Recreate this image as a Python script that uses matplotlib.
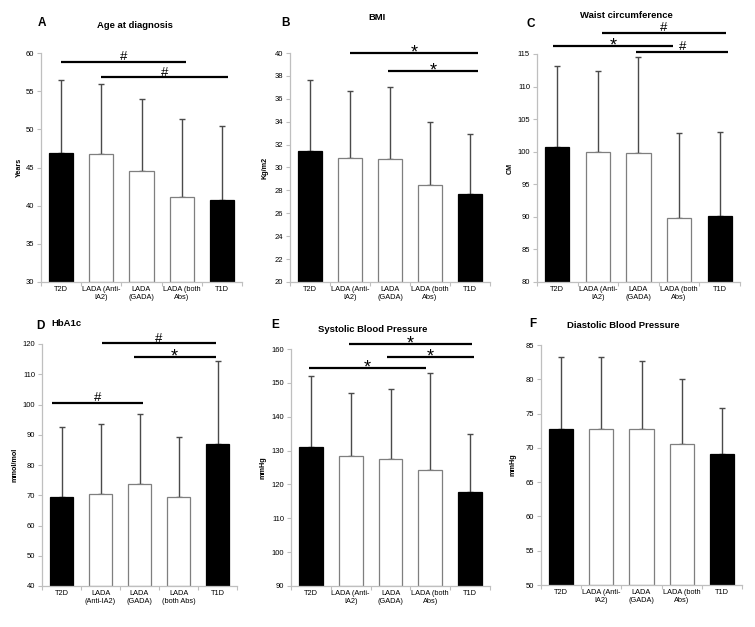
import numpy as np
import matplotlib
matplotlib.use("Agg")
import matplotlib.pyplot as plt

plt.rcParams['font.family'] = ['Liberation Sans', 'DejaVu Sans']

groups = ["T2D", "LADA (Anti-\nIA2)", "LADA\n(GADA)", "LADA (both\nAbs)", "T1D"]
groups_d = ["T2D", "LADA\n(Anti-IA2)", "LADA\n(GADA)", "LADA\n(both Abs)", "T1D"]
fills = ["black", "white", "white", "white", "black"]

# means and mean+SD
age_mean = [46.9, 46.8, 44.5, 41.2, 40.8]
age_top = [56.5, 56.0, 54.0, 51.4, 50.4]
bmi_mean = [31.4, 30.8, 30.7, 28.5, 27.7]
bmi_top = [37.6, 36.7, 37.0, 34.0, 32.9]
waist_mean = [100.7, 100.0, 99.8, 89.8, 90.2]
waist_top = [113.2, 112.4, 114.6, 102.9, 103.1]
hba1c_mean = [69.3, 70.5, 73.8, 69.3, 86.9]
hba1c_top = [92.4, 93.4, 96.7, 89.2, 114.3]
sbp_mean = [131.2, 128.3, 127.6, 124.4, 117.9]
sbp_top = [151.9, 147.0, 148.2, 152.9, 134.9]
dbp_mean = [72.8, 72.7, 72.7, 70.5, 69.1]
dbp_top = [83.2, 83.2, 82.6, 80.1, 75.8]

# significance lines: (start, end in category units, level, symbol)
age_sig = [(0.0, 3.1, 58.8, "#"), (1.0, 4.15, 56.8, "#")]
bmi_sig = [(1.0, 4.2, 40.0, "*"), (1.95, 4.2, 38.4, "*")]
waist_sig = [(1.1, 4.15, 118.3, "#"), (-0.1, 2.85, 116.2, "*"), (1.95, 4.2, 115.3, "#")]
hba1c_sig = [(1.05, 3.95, 120.2, "#"), (1.85, 3.95, 115.8, "*"), (-0.25, 2.1, 100.6, "#")]
sbp_sig = [(0.95, 4.05, 161.6, "*"), (1.9, 4.1, 157.6, "*"), (-0.05, 2.9, 154.4, "*")]
dbp_sig = []

W, H = 755, 627
fig = plt.figure(figsize=(W / 100, H / 100), dpi=100, facecolor="w")

panels = [
    # letter, title, ylabel, means, tops, ylim, ystep, sig, labels, box(l, r, t, b), title xy, letter xy, ylabel x
    ("A", "Age at diagnosis", "Years", age_mean, age_top, (30, 60), 5, age_sig, groups,
     (41, 242, 53, 282), (135, 25), (42, 23), 19),
    ("B", "BMI", "Kg/m2", bmi_mean, bmi_top, (20, 40), 2, bmi_sig, groups,
     (290, 490, 53, 282), (377, 18), (285, 23), 265),
    ("C", "Waist circumference", "CM", waist_mean, waist_top, (80, 115), 5, waist_sig, groups,
     (537, 740, 54, 282), (626, 15), (531, 24), 510),
    ("D", "HbA1c", "mmol/mol", hba1c_mean, hba1c_top, (40, 120), 10, hba1c_sig, groups_d,
     (42, 237, 344, 586), (66, 323), (40, 326), 15),
    ("E", "Systolic Blood Pressure", "mmHg", sbp_mean, sbp_top, (90, 160), 10, sbp_sig, groups,
     (291, 490, 349, 586), (373, 329), (275, 325), 263),
    ("F", "Diastolic Blood Pressure", "mmHg", dbp_mean, dbp_top, (50, 85), 5, dbp_sig, groups,
     (541, 742, 345, 585), (623, 325), (533, 324), 513),
]

axis_grey = "#bfbfbf"
err_grey = "#4a4a4a"

for (letter, title, ylab, means, tops, ylim, ystep, sig, labels,
     box, txy, lxy, ylx) in panels:
    l, r, t, b = box
    ax = fig.add_axes([l / W, 1 - b / H, (r - l) / W, (b - t) / H])
    x = np.arange(len(means))
    means = np.array(means)
    tops = np.array(tops)
    edges = ["black" if f == "black" else "#7f7f7f" for f in fills]
    ax.bar(x, means - ylim[0], bottom=ylim[0], width=0.6, color=fills,
           edgecolor=edges, linewidth=0.9, zorder=2)
    ax.errorbar(x, means, yerr=[np.zeros(len(x)), tops - means], fmt="none",
                ecolor=err_grey, elinewidth=1.0, capsize=2.2, capthick=1.0,
                zorder=1, clip_on=False)
    ax.set_xlim(-0.5, 4.5)
    ax.set_ylim(*ylim)
    ax.set_yticks(np.arange(ylim[0], ylim[1] + 0.01, ystep))
    ax.set_xticks(x)
    ax.set_xticklabels(labels, fontsize=5.3, linespacing=1.15)
    ax.set_xticks(np.arange(-0.5, 4.6, 1.0), minor=True)
    ax.tick_params(axis="x", which="major", length=0, pad=3)
    ax.tick_params(axis="x", which="minor", length=3, color=axis_grey, width=0.8)
    ax.tick_params(axis="y", length=3, color=axis_grey, width=0.8, labelsize=5.5, pad=2)
    for s in ["top", "right"]:
        ax.spines[s].set_visible(False)
    for s in ["left", "bottom"]:
        ax.spines[s].set_color(axis_grey)
        ax.spines[s].set_linewidth(0.9)

    for x0, x1, lev, sym in sig:
        ax.plot([x0, x1], [lev, lev], color="black", lw=1.6, clip_on=False,
                solid_capstyle="butt", zorder=3)
        if sym == "*":
            size, off = 13, -3.2
        else:
            size, off = 9.5, 1.3
        ax.annotate(sym, xy=((x0 + x1) / 2, lev), xytext=(0, off),
                    textcoords="offset points", ha="center", va="baseline",
                    fontsize=size, annotation_clip=False)

    fig.text(txy[0] / W, 1 - txy[1] / H, title, ha="center", va="center",
             fontsize=6.8, fontweight="bold")
    fig.text(lxy[0] / W, 1 - lxy[1] / H, letter, ha="center", va="center",
             fontsize=8.5, fontweight="bold")
    fig.text(ylx / W, 1 - ((t + b) / 2) / H, ylab, ha="center", va="center",
             rotation=90, fontsize=5.2, fontweight="bold")

fig.savefig("out.png", dpi=100, facecolor="w")
